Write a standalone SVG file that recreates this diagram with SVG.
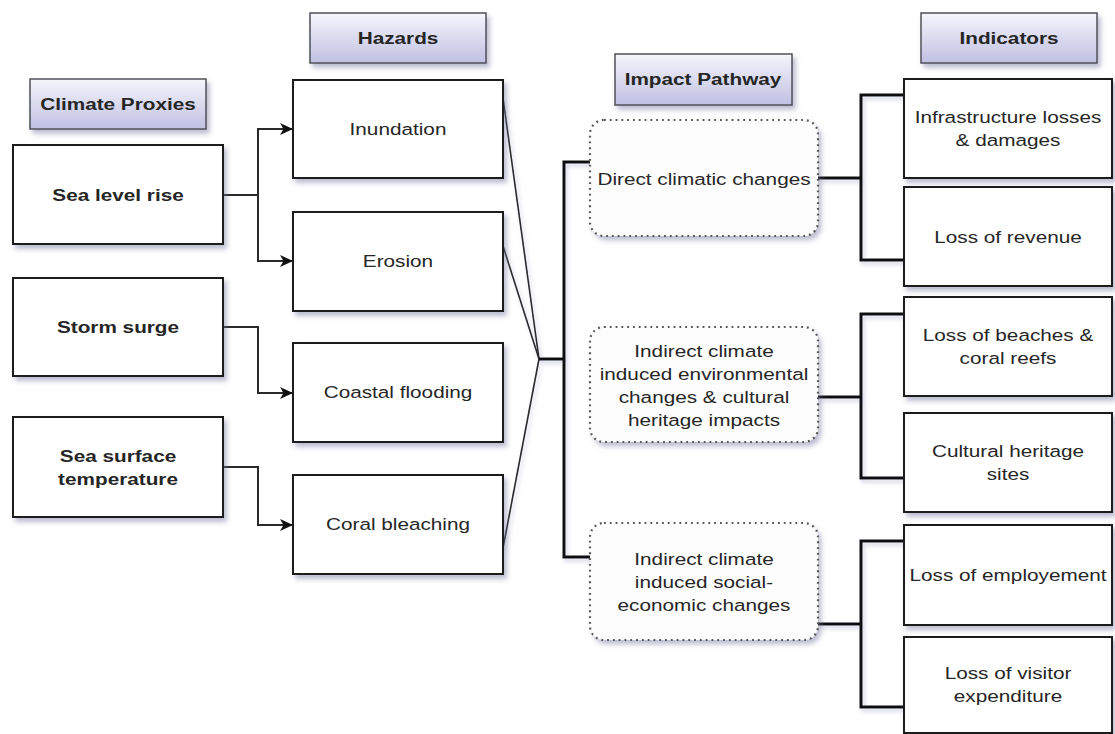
<svg xmlns="http://www.w3.org/2000/svg" width="1115" height="734" viewBox="0 0 1115 734">
<defs>
  <linearGradient id="hdr" x1="0" y1="0" x2="0" y2="1">
    <stop offset="0" stop-color="#f5f5fc"/>
    <stop offset="1" stop-color="#c0c0e2"/>
  </linearGradient>
  <filter id="sh" x="-10%" y="-10%" width="130%" height="130%">
    <feDropShadow dx="3" dy="4" stdDeviation="2.5" flood-color="#6a6a9a" flood-opacity="0.45"/>
  </filter>
  <filter id="shl" x="-20%" y="-20%" width="140%" height="140%">
    <feDropShadow dx="2" dy="3" stdDeviation="2" flood-color="#7a7aa8" flood-opacity="0.35"/>
  </filter>
  <marker id="arr" markerWidth="16" markerHeight="14" refX="13" refY="6" orient="auto" markerUnits="userSpaceOnUse">
    <path d="M0,0 L13,6 L0,12 L3.5,6 Z" fill="#111"/>
  </marker>
  <style>
    .hdr { fill: url(#hdr); stroke: #505058; stroke-width: 1.5; filter: url(#sh); }
    .box { fill: #ffffff; stroke: #1e1e1e; stroke-width: 2; filter: url(#sh); }
    .dot { fill: #fdfdfd; stroke: #555555; stroke-width: 2.2; stroke-dasharray: 1.8 4; filter: url(#sh); }
    .t { font-family: "Liberation Sans", Arial, sans-serif; font-size: 17px; fill: #262626; text-anchor: middle; }
    .b { font-weight: bold; }
    .arrow { fill: none; stroke: #2a2a2a; stroke-width: 2; marker-end: url(#arr); }
    .thin { fill: none; stroke: #2a2a2a; stroke-width: 1.6; }
    .brk { fill: none; stroke: #111; stroke-width: 3; }
  </style>
</defs>
<rect width="1115" height="734" fill="#ffffff"/>

<!-- Headers -->
<g id="hdr-climate-proxies">
  <rect class="hdr" x="30" y="79" width="176" height="50"/>
  <text class="t b" transform="translate(118,0) scale(1.22,1)" x="0" y="110">Climate Proxies</text>
</g>
<g id="hdr-hazards">
  <rect class="hdr" x="310" y="13" width="176" height="50"/>
  <text class="t b" transform="translate(398,0) scale(1.22,1)" x="0" y="44">Hazards</text>
</g>
<g id="hdr-impact-pathway">
  <rect class="hdr" x="615" y="54" width="177" height="51"/>
  <text class="t b" transform="translate(703,0) scale(1.22,1)" x="0" y="85">Impact Pathway</text>
</g>
<g id="hdr-indicators">
  <rect class="hdr" x="921" y="13" width="176" height="50"/>
  <text class="t b" transform="translate(1009,0) scale(1.22,1)" x="0" y="44">Indicators</text>
</g>

<!-- Connectors -->
<g id="connectors">
  <path class="arrow" d="M223,195 H258 V129 H293"/>
  <path class="arrow" d="M223,195 H258 V261 H293"/>
  <path class="arrow" d="M223,327 H258 V393 H293"/>
  <path class="arrow" d="M223,467 H258 V525 H293"/>
  <g filter="url(#shl)">
    <path class="thin" d="M503,98 L539,359"/>
    <path class="thin" d="M503,246 L539,359"/>
    <path class="thin" d="M503,548 L539,359"/>
    <path class="brk" d="M539,359 H564"/>
    <path class="brk" d="M590,162 H564 V557 H590"/>
    <path class="brk" d="M818,178 H861"/>
    <path class="brk" d="M904,95 H861 V260 H904"/>
    <path class="brk" d="M818,397 H861"/>
    <path class="brk" d="M904,314 H861 V478 H904"/>
    <path class="brk" d="M818,624 H861"/>
    <path class="brk" d="M904,541 H861 V707 H904"/>
  </g>
</g>

<!-- Climate proxies -->
<g id="sea-level-rise">
  <rect class="box" x="13" y="145" width="210" height="99"/>
  <text class="t b" transform="translate(118,0) scale(1.22,1)" x="0" y="201">Sea level rise</text>
</g>
<g id="storm-surge">
  <rect class="box" x="13" y="278" width="210" height="98"/>
  <text class="t b" transform="translate(118,0) scale(1.22,1)" x="0" y="333">Storm surge</text>
</g>
<g id="sea-surface-temperature">
  <rect class="box" x="13" y="417" width="210" height="100"/>
  <text class="t b" transform="translate(118,0) scale(1.22,1)" x="0" y="462">Sea surface</text>
  <text class="t b" transform="translate(118,0) scale(1.22,1)" x="0" y="485">temperature</text>
</g>

<!-- Hazards -->
<g id="inundation">
  <rect class="box" x="293" y="80" width="210" height="98"/>
  <text class="t" transform="translate(398,0) scale(1.22,1)" x="0" y="135">Inundation</text>
</g>
<g id="erosion">
  <rect class="box" x="293" y="212" width="210" height="99"/>
  <text class="t" transform="translate(398,0) scale(1.22,1)" x="0" y="267">Erosion</text>
</g>
<g id="coastal-flooding">
  <rect class="box" x="293" y="343" width="210" height="99"/>
  <text class="t" transform="translate(398,0) scale(1.22,1)" x="0" y="398">Coastal flooding</text>
</g>
<g id="coral-bleaching">
  <rect class="box" x="293" y="475" width="210" height="99"/>
  <text class="t" transform="translate(398,0) scale(1.22,1)" x="0" y="530">Coral bleaching</text>
</g>

<!-- Impact pathways -->
<g id="direct-climatic-changes">
  <rect class="dot" x="590" y="120" width="228" height="116" rx="14"/>
  <text class="t" transform="translate(704,0) scale(1.22,1)" x="0" y="185">Direct climatic changes</text>
</g>
<g id="indirect-environmental">
  <rect class="dot" x="590" y="327" width="228" height="115" rx="14"/>
  <text class="t" transform="translate(704,0) scale(1.22,1)" x="0" y="357">Indirect climate</text>
  <text class="t" transform="translate(704,0) scale(1.22,1)" x="0" y="380">induced environmental</text>
  <text class="t" transform="translate(704,0) scale(1.22,1)" x="0" y="403">changes &amp; cultural</text>
  <text class="t" transform="translate(704,0) scale(1.22,1)" x="0" y="426">heritage impacts</text>
</g>
<g id="indirect-social-economic">
  <rect class="dot" x="590" y="523" width="228" height="117" rx="14"/>
  <text class="t" transform="translate(704,0) scale(1.22,1)" x="0" y="565">Indirect climate</text>
  <text class="t" transform="translate(704,0) scale(1.22,1)" x="0" y="588">induced social-</text>
  <text class="t" transform="translate(704,0) scale(1.22,1)" x="0" y="611">economic changes</text>
</g>

<!-- Indicators -->
<g id="infrastructure-losses">
  <rect class="box" x="904" y="79" width="208" height="99"/>
  <text class="t" transform="translate(1008,0) scale(1.22,1)" x="0" y="123">Infrastructure losses</text>
  <text class="t" transform="translate(1008,0) scale(1.22,1)" x="0" y="146">&amp; damages</text>
</g>
<g id="loss-of-revenue">
  <rect class="box" x="904" y="187" width="208" height="99"/>
  <text class="t" transform="translate(1008,0) scale(1.22,1)" x="0" y="243">Loss of revenue</text>
</g>
<g id="loss-of-beaches">
  <rect class="box" x="904" y="297" width="208" height="99"/>
  <text class="t" transform="translate(1008,0) scale(1.22,1)" x="0" y="341">Loss of beaches &amp;</text>
  <text class="t" transform="translate(1008,0) scale(1.22,1)" x="0" y="364">coral reefs</text>
</g>
<g id="cultural-heritage-sites">
  <rect class="box" x="904" y="413" width="208" height="99"/>
  <text class="t" transform="translate(1008,0) scale(1.22,1)" x="0" y="457">Cultural heritage</text>
  <text class="t" transform="translate(1008,0) scale(1.22,1)" x="0" y="480">sites</text>
</g>
<g id="loss-of-employement">
  <rect class="box" x="904" y="525" width="208" height="100"/>
  <text class="t" transform="translate(1008,0) scale(1.22,1)" x="0" y="581">Loss of employement</text>
</g>
<g id="loss-of-visitor-expenditure">
  <rect class="box" x="904" y="637" width="208" height="96"/>
  <text class="t" transform="translate(1008,0) scale(1.22,1)" x="0" y="679">Loss of visitor</text>
  <text class="t" transform="translate(1008,0) scale(1.22,1)" x="0" y="702">expenditure</text>
</g>
</svg>
